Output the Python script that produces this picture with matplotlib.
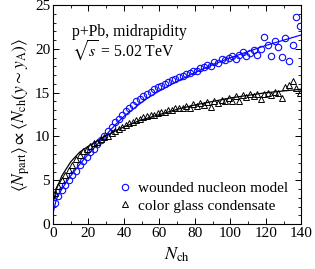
import matplotlib
matplotlib.use("Agg")
import matplotlib.pyplot as plt
from matplotlib.ticker import MultipleLocator

plt.rcParams["font.family"] = ["Liberation Serif", "DejaVu Serif"]
plt.rcParams["mathtext.fontset"] = "stix"

# event-by-event points, Nch = 1, 3, ..., 139
nch_pts = list(range(1, 140, 2))
wounded_pts = [
    2.4, 3.2, 3.9, 4.5, 5.0, 5.6, 6.1, 6.7, 7.2, 7.7,
    8.2, 8.6, 9.1, 9.6, 10.1, 10.6, 11.1, 11.6, 12.0, 12.5,
    12.9, 13.3, 13.6, 14.0, 14.3, 14.6, 14.9, 15.1, 15.4, 15.6,
    15.8, 16.0, 16.2, 16.4, 16.6, 16.8, 16.9, 17.1, 17.2, 17.5,
    17.5, 17.8, 17.9, 18.2, 18.1, 18.5, 18.4, 18.9, 18.7, 19.0,
    19.2, 18.9, 19.3, 19.6, 19.2, 19.5, 19.9, 19.3, 20.0, 21.4,
    20.5, 19.2, 20.9, 20.2, 19.1, 21.3, 18.6, 20.4, 23.6, 22.6,
]
cgc_pts = [
    3.5, 4.3, 5.0, 5.6, 6.2, 6.8, 7.4, 7.9, 8.3, 8.6,
    8.9, 9.2, 9.4, 9.7, 9.9, 10.1, 10.4, 10.6, 10.9, 11.1,
    11.3, 11.5, 11.7, 11.9, 12.0, 12.2, 12.3, 12.4, 12.5, 12.7,
    12.8, 12.8, 13.0, 13.0, 13.2, 13.2, 13.3, 13.5, 13.3, 13.7,
    13.5, 13.8, 13.6, 13.9, 13.4, 14.1, 13.8, 14.2, 14.0, 14.4,
    14.1, 14.6, 14.0, 14.7, 14.5, 14.8, 14.6, 14.9, 14.3, 14.9,
    15.0, 14.7, 15.1, 15.0, 14.4, 15.6, 15.9, 16.3, 15.5, 15.0,
]

# smooth curves
nch_line = [0, 2, 5, 10, 15, 20, 25, 30, 35, 40, 45, 50, 55, 60,
            70, 80, 90, 100, 110, 120, 130, 140]
wounded_line = [1.2, 2.9, 4.0, 5.5, 6.8, 8.0, 9.1, 10.2, 11.3, 12.3, 13.1, 13.9, 14.6, 15.2,
                16.3, 17.3, 18.2, 19.0, 19.7, 20.4, 21.0, 21.6]
cgc_line = [2.4, 4.0, 5.5, 7.1, 8.2, 8.9, 9.5, 10.1, 10.6, 11.1, 11.5, 11.9, 12.2, 12.5,
            13.1, 13.6, 14.0, 14.4, 14.7, 15.0, 15.2, 15.4]

fig = plt.figure(figsize=(3.15, 2.69), dpi=100)
ax = fig.add_axes([0.168, 0.167, 0.789, 0.814])

blue = "#0a0aff"
ax.plot(nch_line, wounded_line, "-", color=blue, lw=0.9, zorder=2)
ax.plot(nch_line, cgc_line, "-", color="black", lw=0.9, zorder=2)
ax.plot(nch_pts, wounded_pts, "o", mfc="none", mec=blue, ms=4.6, mew=0.8,
        label="wounded nucleon model", zorder=3)
ax.plot(nch_pts, cgc_pts, "^", mfc="none", mec="black", ms=4.6, mew=0.7,
        label="color glass condensate", zorder=3)

ax.set_xlim(0, 140)
ax.set_ylim(0, 25)
ax.xaxis.set_major_locator(MultipleLocator(20))
ax.xaxis.set_minor_locator(MultipleLocator(10))
ax.yaxis.set_major_locator(MultipleLocator(5))
ax.yaxis.set_minor_locator(MultipleLocator(1))
ax.tick_params(which="both", direction="in", top=True, right=True, labelsize=11, pad=2)
ax.tick_params(which="major", length=4, width=0.7)
ax.tick_params(which="minor", length=2, width=0.6)
for s in ax.spines.values():
    s.set_linewidth(0.8)

ax.set_xlabel(r"$N_{\rm ch}$", fontsize=13, labelpad=4)
ax.set_ylabel(r"$\left\langle N_{\rm part}\right\rangle \propto \left\langle N_{\rm ch}(y\sim y_{\rm A})\right\rangle$",
              fontsize=12.5, labelpad=2)

ax.text(0.075, 0.875, "p+Pb, midrapidity", transform=ax.transAxes, fontsize=11.3, va="center")
ax.text(0.075, 0.79, r"$\sqrt{s}$ = 5.02 TeV", transform=ax.transAxes, fontsize=11.3, va="center")

ax.legend(loc="lower right", bbox_to_anchor=(0.985, 0.01), frameon=False, fontsize=11,
          handlelength=0.9, handletextpad=0.4, borderaxespad=0.2, labelspacing=0.25)

fig.savefig("out.png", dpi=100)
